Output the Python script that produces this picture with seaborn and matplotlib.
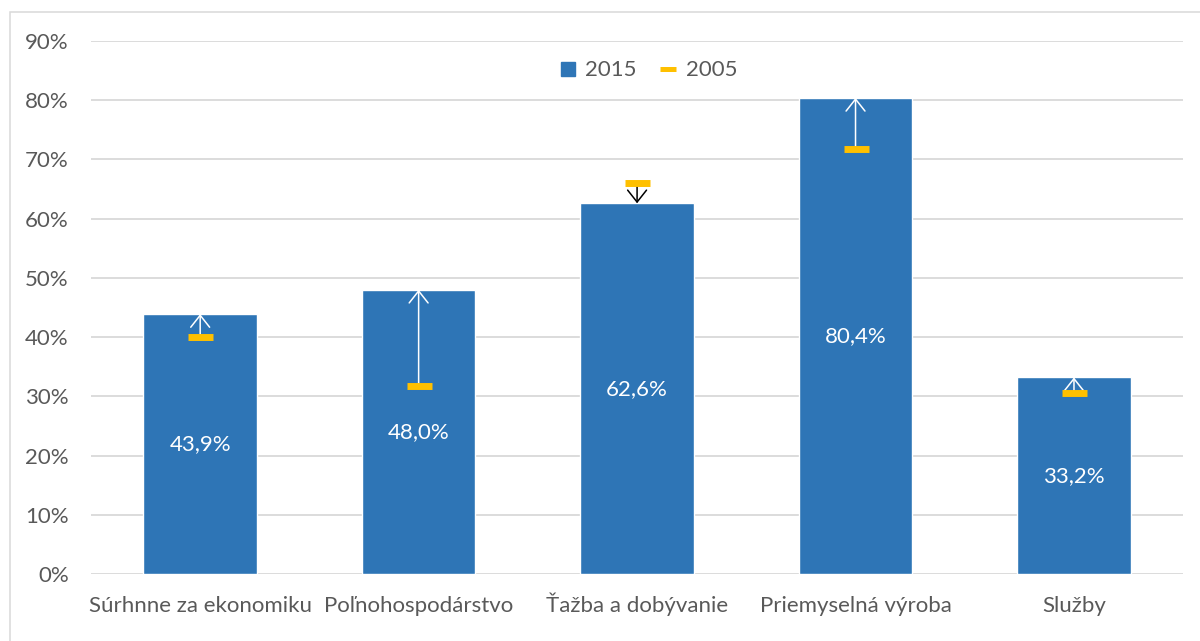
import matplotlib
matplotlib.use("Agg")
import matplotlib.pyplot as plt
import seaborn as sns
import pandas as pd
from matplotlib.lines import Line2D
from matplotlib.patches import Rectangle

categories = ["Súrhnne za ekonomiku", "Poľnohospodárstvo", "Ťažba a dobývanie",
              "Priemyselná výroba", "Služby"]
values_2015 = [43.9, 48.0, 62.6, 80.4, 33.2]
values_2005 = [40.0, 31.8, 66.1, 71.8, 30.5]
y_ticks = [0, 10, 20, 30, 40, 50, 60, 70, 80, 90]

blue = "#2E75B6"
gold = "#FFC000"
grid = "#D9D9D9"
txt = "#595959"

sns.set_style("white")
plt.rcParams['font.family'] = ['Lato', 'DejaVu Sans']

df = pd.DataFrame({"cat": categories, "v2015": values_2015, "v2005": values_2005})

fig = plt.figure(figsize=(12, 6.41), dpi=100)
ax = fig.add_axes([0.0758, 0.1045, 0.9102, 0.8315])

sns.barplot(data=df, x="cat", y="v2015", color=blue, saturation=1, width=0.52, ax=ax, zorder=2)

# sipky 2005 -> 2015
for i, (a, b) in enumerate(zip(values_2005, values_2015)):
    col = "white" if b > a else "black"
    ax.annotate("", xy=(i, b), xytext=(i, a),
                arrowprops=dict(arrowstyle="->,head_length=0.43,head_width=0.34",
                                color=col, lw=1.1, shrinkA=0, shrinkB=0,
                                mutation_scale=20), zorder=3)

# znacky 2005
ax.plot(range(len(categories)), values_2005, linestyle="none", marker="_",
        markersize=18, markeredgewidth=5, color=gold, zorder=4)

# popisky hodnot
for i, v in enumerate(values_2015):
    ax.text(i, v / 2, f"{v:.1f}%".replace(".", ","), ha="center", va="center",
            color="white", fontsize=16, zorder=5)

ax.set_ylim(0, 90)
ax.set_xlim(-0.5, len(categories) - 0.5)
ax.set_yticks(y_ticks)
ax.set_yticklabels([f"{t}%" for t in y_ticks])
ax.yaxis.grid(True, color=grid, lw=1.3, zorder=0)
ax.set_axisbelow(True)
for s in ax.spines.values():
    s.set_visible(False)
ax.tick_params(axis="both", length=0, labelsize=16, colors=txt)
ax.tick_params(axis="y", pad=16)
ax.tick_params(axis="x", pad=27)
for lbl in ax.get_xticklabels():
    lbl.set_va("baseline")
ax.set_xlabel("")
ax.set_ylabel("")

handles = [
    Line2D([], [], linestyle="none", marker="s", markersize=9.5, color=blue),
    Line2D([], [], linestyle="none", marker="_", markersize=11, markeredgewidth=3.6, color=gold),
]
ax.legend(handles, ["2015", "2005"], loc="center", bbox_to_anchor=(0.51, 0.945),
          ncol=2, frameon=False, fontsize=16, handlelength=0.8, handletextpad=0.4,
          columnspacing=1.0, labelcolor=txt)

fig.add_artist(Rectangle((10 / 1200, -0.1), 1.2, 1.1 - 12 / 641,
                         transform=fig.transFigure, fill=False,
                         edgecolor=grid, lw=1.1))

fig.savefig("out.png", dpi=100)
